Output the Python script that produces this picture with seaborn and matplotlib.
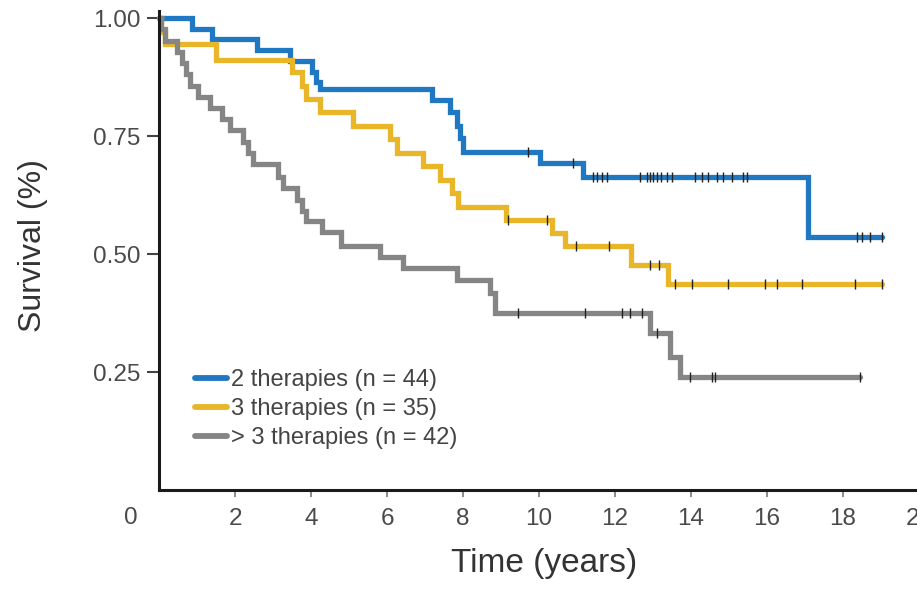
import numpy as np
import pandas as pd
import matplotlib
matplotlib.use("Agg")
import matplotlib.pyplot as plt
import seaborn as sns

# ---- data ----
groups = ["2 therapies (n = 44)", "3 therapies (n = 35)", "> 3 therapies (n = 42)"]

t_2 = [0, 0.86, 1.39, 2.57, 3.45, 4.02, 4.14, 4.24, 7.18, 7.66, 7.83, 7.92, 8.0, 10.03, 11.16, 17.08, 19.02]
s_2 = [1.0, 0.977, 0.955, 0.932, 0.909, 0.886, 0.864, 0.849, 0.826, 0.80, 0.772, 0.745, 0.716, 0.692, 0.664, 0.537, 0.537]

t_3 = [0, 0.05, 0.16, 1.5, 3.5, 3.75, 3.88, 4.24, 5.11, 6.08, 6.25, 6.95, 7.39, 7.7, 7.87, 9.12, 10.33, 10.68, 12.43, 13.4, 19.02]
s_3 = [1.0, 0.971, 0.946, 0.912, 0.886, 0.857, 0.829, 0.80, 0.771, 0.743, 0.714, 0.686, 0.657, 0.629, 0.60, 0.573, 0.545, 0.516, 0.477, 0.436, 0.436]

t_4 = [0, 0.05, 0.16, 0.47, 0.6, 0.72, 0.82, 1.03, 1.34, 1.65, 1.87, 2.22, 2.35, 2.48, 3.14, 3.27, 3.62, 3.75, 3.88, 4.28, 4.8, 5.82, 6.43, 7.83, 8.71, 8.85, 12.92, 13.45, 13.71, 18.45]
s_4 = [1.0, 0.976, 0.952, 0.929, 0.905, 0.881, 0.857, 0.833, 0.81, 0.786, 0.762, 0.738, 0.714, 0.69, 0.664, 0.639, 0.614, 0.592, 0.569, 0.547, 0.516, 0.494, 0.47, 0.445, 0.417, 0.374, 0.332, 0.282, 0.24, 0.24]

cens_2 = [9.7, 10.9, 11.41, 11.52, 11.65, 11.78, 12.66, 12.83, 12.92, 13.0, 13.1, 13.2, 13.36, 13.49,
          14.1, 14.3, 14.45, 14.68, 14.84, 15.07, 15.37, 15.47, 18.36, 18.49, 18.71, 19.02]
cens_3 = [9.18, 10.2, 10.97, 11.85, 12.92, 13.17, 13.58, 14.02, 14.98, 15.95, 16.25, 16.91, 18.32, 19.02]
cens_4 = [9.45, 11.21, 12.18, 12.39, 12.7, 13.11, 13.97, 14.54, 14.63, 18.45]

x_ticks = [2, 4, 6, 8, 10, 12, 14, 16, 18, 20]
y_ticks = [0.25, 0.50, 0.75, 1.00]
y_ticklabels = ["0.25", "0.50", "0.75", "1.00"]

colors = ["#1f78c1", "#e8b628", "#858585"]

# ---- build frames ----
curves = pd.concat([
    pd.DataFrame({"time": t, "surv": s, "group": g})
    for t, s, g in zip([t_2, t_3, t_4], [s_2, s_3, s_4], groups)
], ignore_index=True)

def step_at(tt, ss, c):
    tt = np.asarray(tt); ss = np.asarray(ss)
    idx = np.searchsorted(tt, c, side="right") - 1
    return ss[idx]

cens = pd.concat([
    pd.DataFrame({"time": c, "surv": step_at(t, s, c), "group": g})
    for t, s, c, g in zip([t_2, t_3, t_4], [s_2, s_3, s_4], [cens_2, cens_3, cens_4], groups)
], ignore_index=True)

# ---- plot ----
sns.set_theme(style="white")
plt.rcParams["font.family"] = ["Liberation Sans", "DejaVu Sans"]

fig = plt.figure(figsize=(9.17, 5.90), dpi=100)
ax = fig.add_axes([159 / 917, 100 / 590, 760 / 917, (490 - 13.3) / 590])

sns.lineplot(data=curves, x="time", y="surv", hue="group", palette=colors,
             hue_order=groups, estimator=None, sort=False, drawstyle="steps-post",
             linewidth=3.8, ax=ax, legend=True)
for line in ax.lines:
    line.set_clip_on(False)
    line.set_solid_joinstyle("miter")

sns.scatterplot(data=cens, x="time", y="surv", marker="|", color="#222222",
                s=45, linewidth=1.0, ax=ax, legend=False, zorder=5)

ax.set_xlim(0, 20)
ax.set_ylim(0, 1.01)
ax.set_xticks(x_ticks)
ax.set_xticklabels([str(v) for v in x_ticks])
ax.set_yticks(y_ticks)
ax.set_yticklabels(y_ticklabels)

for lab in ax.get_xticklabels() + ax.get_yticklabels():
    lab.set_fontsize(17.5)
    lab.set_color("#4a4a4a")

ax.tick_params(axis="x", direction="out", length=5, width=1.2, color="#777777", pad=8, bottom=True)
ax.tick_params(axis="y", direction="out", length=8.5, width=1.5, color="#444444", pad=5, left=True)

for side in ["top", "right"]:
    ax.spines[side].set_visible(False)
for side in ["left", "bottom"]:
    ax.spines[side].set_color("#1a1a1a")
    ax.spines[side].set_linewidth(2.2)
ax.spines["left"].set_bounds(0, 1.015)

ax.set_xlabel("Time (years)", fontsize=24, color="#333333", va="top")
ax.set_ylabel("Survival (%)", fontsize=23, color="#333333")
ax.xaxis.set_label_coords(0.507, -0.122)
ax.yaxis.set_label_coords(-0.146, 0.512)

# origin label
ax.text(-0.75, -0.035, "0", ha="center", va="top", fontsize=17.5, color="#4a4a4a")

handles, labels = ax.get_legend_handles_labels()
leg = ax.legend(handles, labels, loc="upper left", bbox_to_anchor=(0.047, 0.254),
                frameon=False, handlelength=1.35, handletextpad=0.2, labelspacing=0.3,
                fontsize=17, borderaxespad=0, borderpad=0)
for t in leg.get_texts():
    t.set_color("#444444")
for h in leg.get_lines():
    h.set_linewidth(4.2)

fig.savefig("out.png", dpi=100)
